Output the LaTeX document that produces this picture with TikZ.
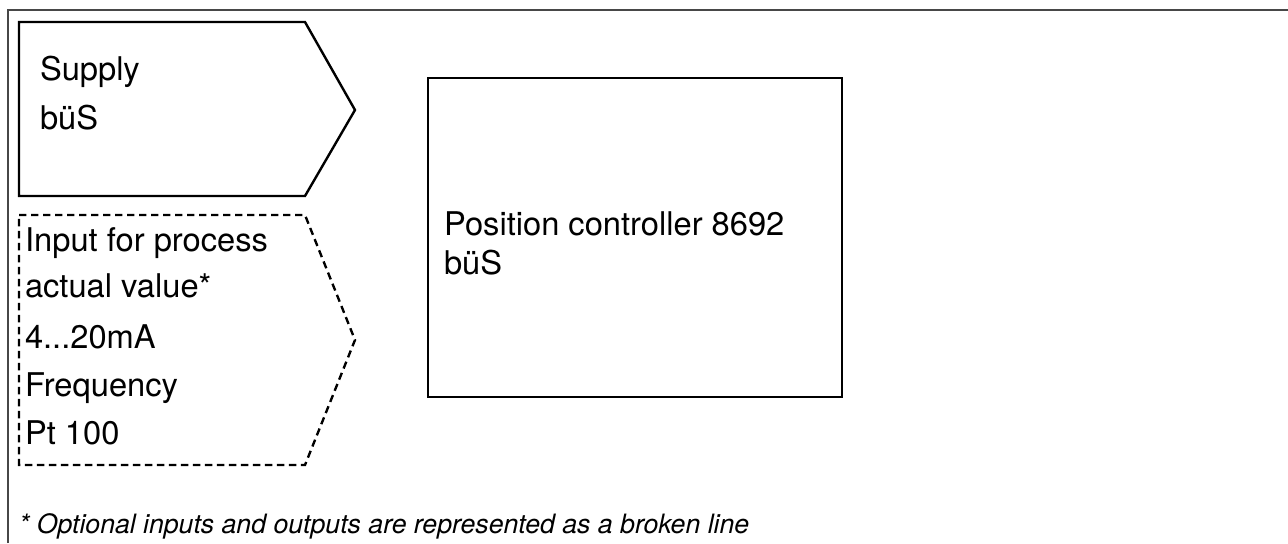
\documentclass[tikz,border=0pt]{standalone}
\usepackage{fontspec}
\setmainfont{TeX Gyre Heros}
\begin{document}
\begin{tikzpicture}[x=0.75pt,y=-0.75pt,
  frameline/.style={draw=black!72,line width=1.5pt},
  shapeline/.style={draw=black,line width=1.8pt,line join=miter},
  optline/.style={draw=black,line width=1.8pt,dash pattern=on 5.5pt off 3.5pt},
  lbl/.style={anchor=base west,inner sep=0pt,outer sep=0pt,font=\fontsize{24.5pt}{29pt}\selectfont},
  note/.style={anchor=base west,inner sep=0pt,outer sep=0pt,font=\fontsize{20pt}{24pt}\selectfont\itshape}]
\useasboundingbox (0,0) rectangle (1288,543);
% outer frame (open at right and bottom)
\coordinate (fb) at (8,543);
\coordinate (ftl) at (8,10);
\coordinate (ftr) at (1288,10);
\draw[frameline] (fb) -- (ftl) -- (ftr);
% supply shape
\coordinate (s1) at (19,22);
\coordinate (s2) at (305,22);
\coordinate (s3) at (355,110);
\coordinate (s4) at (305,196);
\coordinate (s5) at (19,196);
\draw[shapeline] (s1) -- (s2) -- (s3) -- (s4) -- (s5) -- cycle;
% optional input shape
\coordinate (d1) at (19,215);
\coordinate (d2) at (305,215);
\coordinate (d3) at (355,340);
\coordinate (d4) at (305,465);
\coordinate (d5) at (19,465);
\draw[optline] (d1) -- (d2) -- (d3) -- (d4) -- (d5) -- cycle;
% position controller box
\coordinate (b1) at (428,78);
\coordinate (b2) at (842,397);
\draw[shapeline] (b1) rectangle (b2);
% texts
\node[lbl] (supply) at (40,80) {Supply};
\node[lbl] (supplybus) at (40,129) {büS};
\node[lbl] (in1) at (25,251) {Input for process};
\node[lbl] (in2) at (25,297) {actual value*};
\node[lbl] (in3) at (25,348) {4...20mA};
\node[lbl] (in4) at (25,396) {Frequency};
\node[lbl] (in5) at (25,444) {Pt 100};
\node[lbl] (pc1) at (444,235) {Position controller 8692};
\node[lbl] (pc2) at (444,274) {büS};
\node[note] (fn) at (19,533) {* Optional inputs and outputs are represented as a broken line};
\end{tikzpicture}
\end{document}
